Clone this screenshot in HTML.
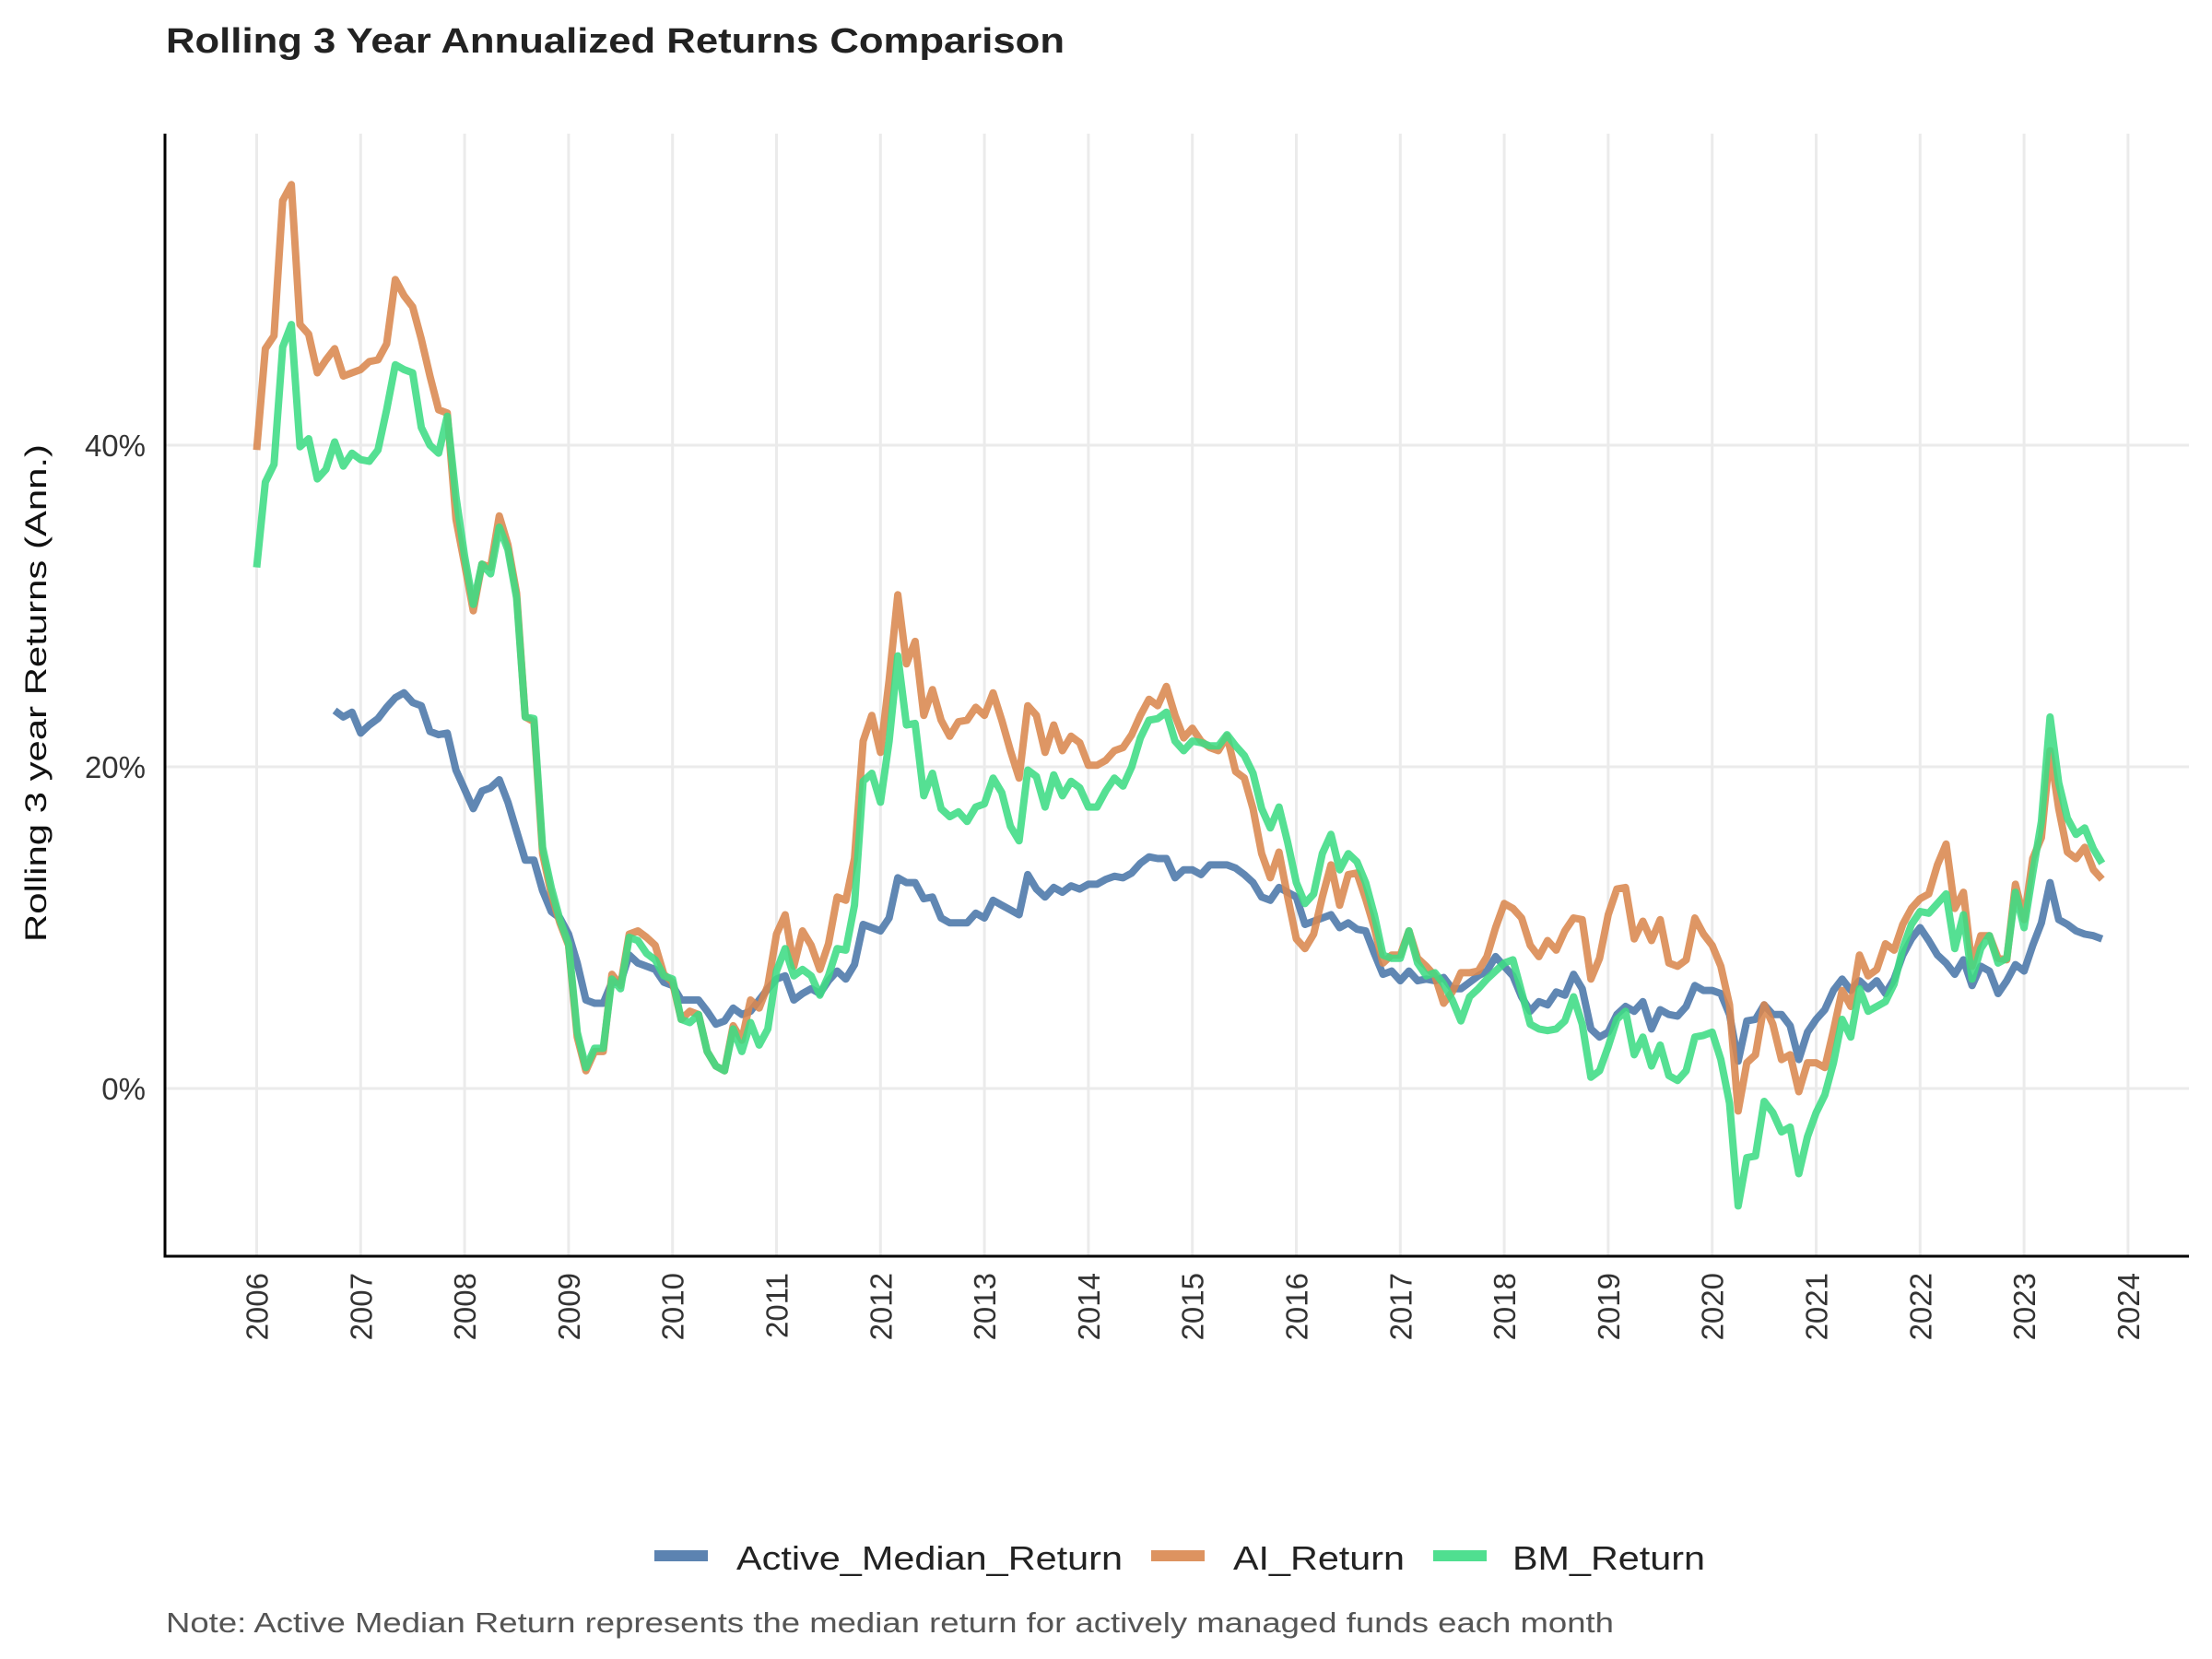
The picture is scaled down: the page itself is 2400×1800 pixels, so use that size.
<!DOCTYPE html>
<html><head><meta charset="utf-8"><style>
html,body{margin:0;padding:0;background:#fff;}
svg{display:block;font-family:"Liberation Sans",Arial,sans-serif;}
</style></head><body>
<svg id="chart" width="2400" height="1800" viewBox="0 0 2400 1800" xmlns="http://www.w3.org/2000/svg">
<rect x="0" y="0" width="2400" height="1800" fill="#ffffff"/>
<text x="180" y="57" font-size="38" font-weight="bold" fill="#222" textLength="975" lengthAdjust="spacingAndGlyphs">Rolling 3 Year Annualized Returns Comparison</text>
<g id="grid"></g>
<g id="series"></g>
<g id="axes"></g>
<text transform="translate(50,752) rotate(-90)" text-anchor="middle" font-size="32" fill="#111" textLength="540" lengthAdjust="spacingAndGlyphs">Rolling 3 year Returns (Ann.)</text>
<g>
<g><rect x="710" y="1682" width="58" height="12" fill="#4a76a8" opacity="0.9"/><text x="799" y="1703" font-size="36" fill="#222" textLength="419" lengthAdjust="spacingAndGlyphs">Active_Median_Return</text></g>
<g><rect x="1249" y="1682" width="58" height="12" fill="#d9874f" opacity="0.9"/><text x="1338" y="1703" font-size="36" fill="#222" textLength="186" lengthAdjust="spacingAndGlyphs">AI_Return</text></g>
<g><rect x="1555" y="1682" width="58" height="12" fill="#3ddc84" opacity="0.9"/><text x="1641" y="1703" font-size="36" fill="#222" textLength="209" lengthAdjust="spacingAndGlyphs">BM_Return</text></g>
</g>
<text x="180" y="1771" font-size="31" fill="#555" textLength="1571" lengthAdjust="spacingAndGlyphs">Note: Active Median Return represents the median return for actively managed funds each month</text>
</svg>
<script>
const startYear = 2006;
const yearTicks = [2006,2007,2008,2009,2010,2011,2012,2013,2014,2015,2016,2017,2018,2019,2020,2021,2022,2023,2024];
const yTicks = [0,20,40];
const yTickLabels = ["0%","20%","40%"];
const activeStart = 9;
const activeValues = [23.5,23.1,23.4,22.1,22.6,23.0,23.7,24.3,24.6,24.0,
23.8,22.2,22.0,22.1,19.8,18.6,17.4,18.5,18.7,19.2,
17.8,16.0,14.2,14.2,12.3,11.0,10.6,9.6,7.8,5.5,
5.3,5.3,6.6,6.6,8.3,7.8,7.6,7.4,6.6,6.4,
5.5,5.5,5.5,4.8,4.0,4.2,5.0,4.6,4.8,5.5,
6.2,6.8,7.0,
5.5,5.9,6.2,5.9,6.7,7.3,6.8,7.7,10.2,10.0,
9.8,10.6,13.1,12.8,12.8,11.8,11.9,10.6,10.3,10.3,
10.3,10.9,10.6,11.7,11.4,11.1,10.8,13.3,12.4,11.9,
12.5,12.2,12.6,12.4,12.7,12.7,13.0,13.2,13.1,13.4,
14.0,14.4,14.3,14.3,13.1,13.6,13.6,13.3,13.9,13.9,
13.9,13.7,13.3,12.8,11.9,11.7,12.5,12.2,11.9,10.2,
10.4,10.6,10.8,10.0,10.3,9.9,9.8,8.4,7.1,7.3,
6.7,7.3,6.7,6.8,
6.7,6.9,6.2,6.2,6.6,7.0,7.3,8.2,7.6,7.0,
5.7,4.8,5.4,5.2,6.0,5.8,7.1,6.2,3.7,3.2,
3.5,4.6,5.1,4.8,5.4,3.7,4.9,4.6,4.5,5.1,
6.4,6.1,6.1,5.9,4.6,1.7,4.2,4.3,5.2,4.6,
4.6,3.9,1.8,3.5,4.3,4.9,6.1,6.8,6.1,6.7,
6.2,6.7,5.9,6.8,8.3,9.3,10.0,9.2,8.3,7.8,
7.1,8.0,6.4,7.6,7.3,5.9,6.7,7.7,7.3,8.9,
10.3,12.8,10.5,10.2,9.8,9.6,9.5,9.3];
const aiStart = 0;
const aiValues = [39.7,46.0,46.8,55.2,56.2,47.5,46.9,44.5,45.3,46.0,
44.3,44.5,44.7,45.2,45.3,46.3,50.3,49.3,48.6,46.6,
44.3,42.2,42.0,35.4,32.6,29.7,32.6,32.4,35.6,33.8,
30.8,23.1,22.8,14.6,12.1,10.3,8.9,3.2,1.1,2.3,
2.3,7.1,6.4,9.6,9.8,9.4,8.9,7.1,6.6,4.3,
4.8,4.6,2.3,1.4,1.1,3.9,3.0,5.5,5.0,6.4,9.6,
10.8,7.6,9.8,8.9,7.4,9.0,11.9,11.7,14.3,21.6,
23.2,20.9,25.4,30.7,26.4,27.8,23.2,24.8,22.9,21.9,
22.8,22.9,23.7,23.2,24.6,22.9,21.0,19.3,23.8,23.2,
20.9,22.6,21.0,21.9,21.5,20.1,20.1,20.4,21.0,21.2,
22.0,23.2,24.2,23.8,25.0,23.2,21.8,22.4,21.6,21.2,
21.0,21.9,19.7,19.3,17.4,14.6,13.1,14.7,11.9,9.3,
8.7,9.6,11.9,13.9,11.4,13.3,13.4,11.8,10.0,7.8,
8.3,8.3,9.8,8.1,7.6,
7.0,5.3,6.0,7.2,7.2,7.3,8.2,10.0,11.5,11.2,
10.6,8.9,8.2,9.2,8.6,9.8,10.6,10.5,6.8,8.1,
10.8,12.4,12.5,9.3,10.4,9.2,10.5,7.8,7.6,8.0,
10.6,9.6,8.9,7.6,5.2,-1.4,1.6,2.1,5.2,4.0,
1.8,2.1,-0.2,1.6,1.6,1.3,3.6,6.1,5.1,8.3,
7.0,7.4,9.0,8.6,10.2,11.2,11.8,12.1,13.9,15.2,
11.2,12.2,7.6,9.5,9.5,8.1,8.0,12.7,10.5,14.3,
15.6,21.0,17.4,14.7,14.3,15.0,13.6,13.0];
const bmStart = 0;
const bmValues = [32.4,37.7,38.8,46.1,47.5,39.9,40.4,37.9,38.5,40.2,
38.7,39.5,39.1,39.0,39.7,42.2,45.0,44.7,44.5,41.1,
40.0,39.5,41.8,36.8,33.1,30.1,32.6,32.0,34.9,33.5,
30.5,23.1,23.0,15.0,12.5,10.5,9.0,3.5,1.3,2.5,
2.5,6.8,6.2,9.4,9.2,8.4,8.0,7.0,6.8,4.3,
4.1,4.6,2.3,1.4,1.1,3.7,2.3,4.1,2.7,3.7,7.3,
8.7,7.0,7.4,7.0,5.8,7.0,8.7,8.6,11.4,19.1,
19.6,17.8,21.6,26.9,22.6,22.7,18.2,19.6,17.4,16.9,
17.2,16.6,17.5,17.7,19.3,18.4,16.3,15.4,19.8,19.4,
17.5,19.5,18.2,19.1,18.7,17.5,17.5,18.5,19.3,18.8,
20.0,21.8,22.9,23.0,23.4,21.6,21.0,21.6,21.5,21.3,
21.3,22.0,21.3,20.7,19.6,17.4,16.2,17.5,15.3,12.8,
11.5,12.1,14.6,15.8,13.6,14.6,14.1,12.8,10.8,8.3,
8.1,8.1,9.8,7.8,7.0,
7.2,6.5,5.5,4.2,5.7,6.2,6.8,7.3,7.8,8.0,
6.0,4.0,3.7,3.6,3.7,4.2,5.7,4.0,0.7,1.1,
2.6,4.3,4.8,2.1,3.2,1.4,2.7,0.8,0.5,1.1,
3.2,3.3,3.5,1.8,-0.9,-7.3,-4.3,-4.2,-0.8,-1.5,
-2.7,-2.4,-5.3,-3.0,-1.5,-0.4,1.6,4.3,3.2,6.2,
4.8,5.1,5.4,6.5,8.7,10.2,11.0,10.9,11.5,12.1,
8.7,10.8,6.8,8.7,9.5,7.8,8.1,12.2,10.0,13.4,
16.6,23.1,19.0,16.8,15.8,16.2,14.9,14.0];

const NS = "http://www.w3.org/2000/svg";
const PL = 179, PR = 2375, PT = 145, PB = 1363;
const X0 = 278.5, YEARW = 112.8;
const Y0 = 1181, PCT = 17.45;
function xScale(monthIndex){ return X0 + YEARW * monthIndex / 12; }
function xYear(y){ return X0 + YEARW * (y - startYear); }
function yScale(v){ return Y0 - PCT * v; }
function mk(tag, attrs, parent){
  const el = document.createElementNS(NS, tag);
  for (const k in attrs) el.setAttribute(k, attrs[k]);
  parent.appendChild(el);
  return el;
}
const grid = document.getElementById('grid');
const axes = document.getElementById('axes');
const series = document.getElementById('series');

yTicks.forEach((t, i) => {
  const l = mk('line', {x1: PL, x2: PR, y1: yScale(t), y2: yScale(t), stroke: '#ebebeb', 'stroke-width': 3}, grid);
  
  
  const tx = mk('text', {x: 158, y: yScale(t) + 12, 'text-anchor': 'end', 'font-size': 33, fill: '#333'}, axes);
  tx.textContent = yTickLabels[i];
  
  
});
yearTicks.forEach(yr => {
  const x = xYear(yr);
  const l = mk('line', {x1: x, x2: x, y1: PT, y2: PB, stroke: '#ebebeb', 'stroke-width': 3}, grid);
  
  
  const tx = mk('text', {transform: 'translate(' + (x + 12) + ',1381) rotate(-90)', 'text-anchor': 'end', 'font-size': 33, fill: '#333'}, axes);
  tx.textContent = String(yr);
  
  
});
const ya = mk('line', {x1: PL, x2: PL, y1: PT, y2: PB + 1.5, stroke: '#000', 'stroke-width': 3}, axes);


const xa = mk('line', {x1: PL - 1.5, x2: PR, y1: PB, y2: PB, stroke: '#000', 'stroke-width': 3}, axes);



function drawSeries(vals, start, color, name){
  const pts = vals.map((v, i) => xScale(start + i).toFixed(1) + ',' + yScale(v).toFixed(1)).join(' ');
  const p = mk('polyline', {points: pts, fill: 'none', stroke: color, 'stroke-width': 8, 'stroke-linejoin': 'round', 'stroke-linecap': 'butt', opacity: 0.88}, series);
  
  
}
drawSeries(activeValues, activeStart, '#4a76a8', 'active-median-line');
drawSeries(aiValues, aiStart, '#d9874f', 'ai-return-line');
drawSeries(bmValues, bmStart, '#3ddc84', 'bm-return-line');
</script>
</body></html>
